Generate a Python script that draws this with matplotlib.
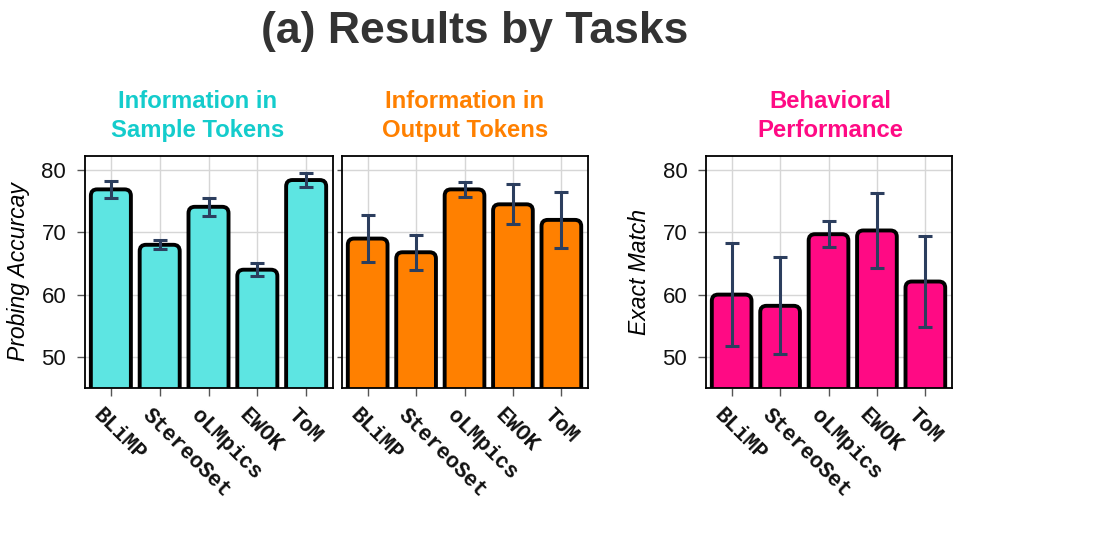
import matplotlib
matplotlib.use("Agg")
import matplotlib.pyplot as plt
import matplotlib.transforms as mtransforms
from matplotlib.patches import FancyBboxPatch

tasks = ["BLiMP", "StereoSet", "oLMpics", "EWOK", "ToM"]

sample_vals = [76.9, 68.0, 74.1, 64.0, 78.4]
sample_err = [1.4, 0.75, 1.4, 1.0, 1.1]

output_vals = [69.0, 66.8, 76.9, 74.5, 72.0]
output_err = [3.8, 2.8, 1.25, 3.2, 4.5]

behav_vals = [60.0, 58.2, 69.7, 70.3, 62.1]
behav_err = [8.3, 7.8, 2.1, 6.0, 7.3]

sub_titles = [["Information in", "Sample Tokens"],
              ["Information in", "Output Tokens"],
              ["Behavioral", "Performance"]]
main_title = "(a) Results by Tasks"
ylabels = ["Probing Accurcay", None, "Exact Match"]
yticks = [50, 60, 70, 80]

bar_colors = ["#5DE5E2", "#FF8000", "#FF0A84"]
text_colors = ["#14CCCC", "#FF8000", "#FF0A84"]
err_color = "#2C3E5E"

W, H = 1110, 535
fig = plt.figure(figsize=(W / 100, H / 100), dpi=100)
sans = ["Liberation Sans", "DejaVu Sans"]
mono = ["Liberation Mono", "DejaVu Sans Mono"]

ax_boxes = [(85, 248), (342, 246), (706, 246)]
top_px, bot_px = 156, 388
ylim = (45, 82.26)
xlim = (-0.53, 4.55)

data = [(sample_vals, sample_err), (output_vals, output_err), (behav_vals, behav_err)]
axes = []
for i, ((lx, w), (vals, errs)) in enumerate(zip(ax_boxes, data)):
    ax = fig.add_axes([lx / W, 1 - bot_px / H, w / W, (bot_px - top_px) / H])
    axes.append(ax)
    ax.set_xlim(*xlim)
    ax.set_ylim(*ylim)
    ax.set_axisbelow(True)
    ax.grid(True, color="#D6D6D6", lw=1.0)
    x = list(range(len(tasks)))
    bars = ax.bar(x, vals, width=0.82, color=bar_colors[i])
    # convert to rounded bars
    px_per_x = w / (xlim[1] - xlim[0])
    px_per_y = (bot_px - top_px) / (ylim[1] - ylim[0])
    aspect = px_per_x / px_per_y
    for b in bars:
        bx, by = b.get_x(), 30
        bw, bh = b.get_width(), b.get_height() - 30
        b.remove()
        r = 0.13
        p = FancyBboxPatch((bx + r, by + r * aspect), bw - 2 * r, bh - 2 * r * aspect,
                           boxstyle=f"round,pad={r},rounding_size={r}",
                           mutation_aspect=aspect,
                           facecolor=bar_colors[i], edgecolor="black", lw=2.8, zorder=2)
        ax.add_patch(p)
    ax.errorbar(x, vals, yerr=errs, fmt="none", ecolor=err_color, elinewidth=2.2,
                capsize=5, capthick=2.2, zorder=3)
    ax.set_yticks(yticks)
    ax.set_xticks(x)
    ax.set_xticklabels([])
    base = mtransforms.blended_transform_factory(ax.transData, ax.transAxes)
    off = mtransforms.ScaledTranslation(-7 / 100, -17 / 100, fig.dpi_scale_trans)
    for xi, name in zip(x, tasks):
        ax.text(xi, 0, name, transform=base + off, rotation=-45, ha="left", va="top",
                rotation_mode="anchor", family=mono, fontweight="bold",
                fontsize=15.5, color="#111111", clip_on=False)
    ax.tick_params(axis="both", direction="out", length=5.5, width=1, color="#555555")
    ax.tick_params(axis="y", labelsize=16, pad=8)
    for lab in ax.get_yticklabels():
        lab.set_family(sans)
        lab.set_color("#111111")
    for s in ax.spines.values():
        s.set_linewidth(1.3)
        s.set_color("black")
    if ylabels[i]:
        ax.set_ylabel(ylabels[i], fontsize=16.5, style="italic", family=sans, labelpad=8)
    else:
        ax.tick_params(axis="y", labelleft=False, length=3.5)

fig.text(475 / W, 1 - 43 / H, main_title, ha="center", va="baseline",
         fontsize=32, fontweight="bold", color="#333333", family=sans)
centers = [198, 465, 830]
for cx, lines, c in zip(centers, sub_titles, text_colors):
    for ly, line in zip([108, 137], lines):
        fig.text(cx / W, 1 - ly / H, line, ha="center", va="baseline",
                 fontsize=17.2, fontweight="bold", color=c, family=sans)

fig.savefig("out.png", dpi=100)
